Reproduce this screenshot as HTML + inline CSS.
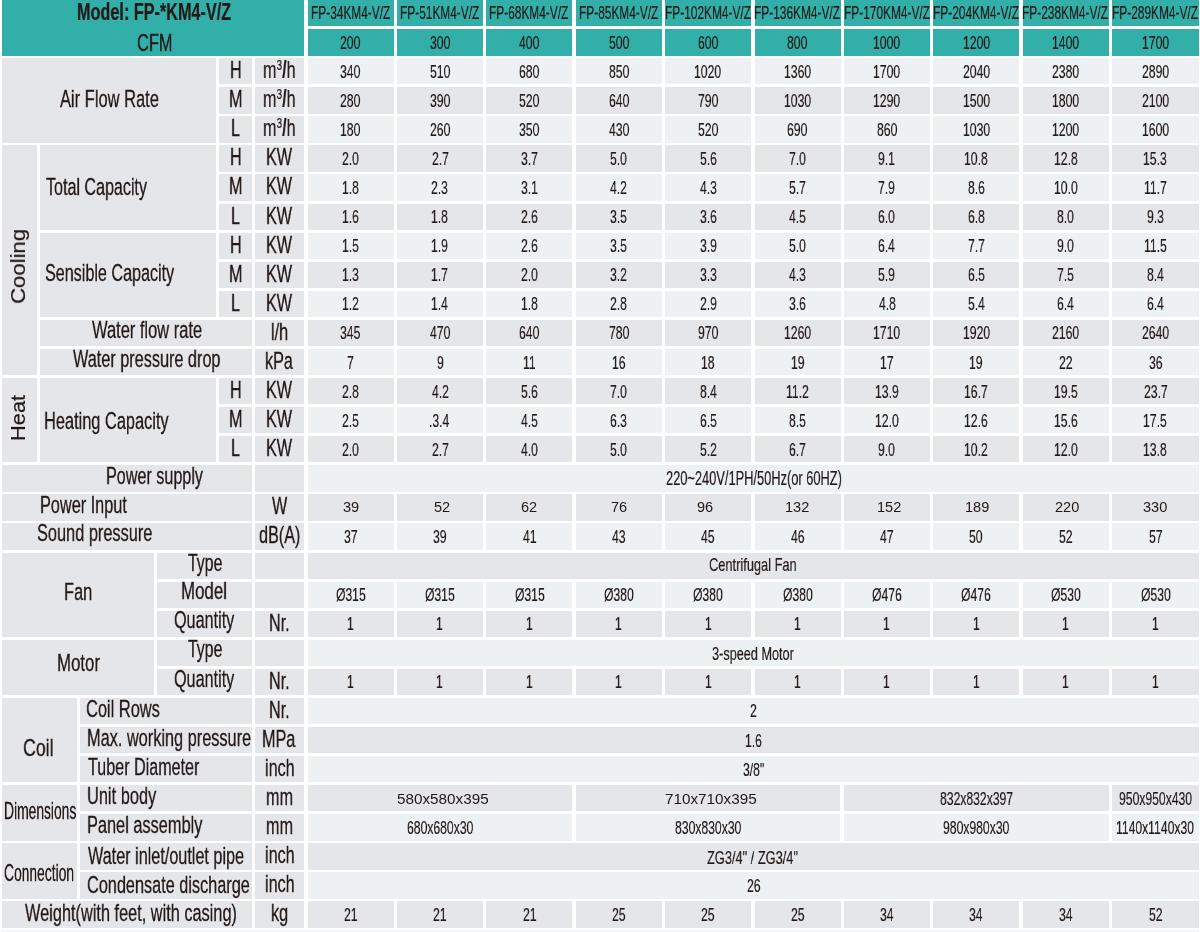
<!DOCTYPE html><html><head><meta charset="utf-8"><title>FP-KM4-V/Z</title><style>
html,body{margin:0;padding:0;background:#fff;width:1200px;height:932px;overflow:hidden}
.c{position:absolute}
.t{position:absolute;font-family:"Liberation Sans",Arial,sans-serif;line-height:1;white-space:nowrap;color:#231816;transform-origin:0 0;will-change:transform;-webkit-text-stroke:0.2px #231816}
.l{-webkit-text-stroke:0.3px #231816}
.b{font-weight:bold}
.r{transform:translate(-50%,-50%) rotate(-90deg);transform-origin:50% 50%}
sup{font-size:0.62em;vertical-align:0.55em;line-height:0}
</style></head><body>
<div class="c" style="left:2.00px;top:0.00px;width:302.00px;height:55.60px;background:#33afa9"></div>
<div class="c" style="left:307.60px;top:0.00px;width:86.00px;height:25.60px;background:#33afa9"></div>
<div class="c" style="left:307.60px;top:29.08px;width:86.00px;height:26.52px;background:#33afa9"></div>
<div class="c" style="left:396.98px;top:0.00px;width:86.00px;height:25.60px;background:#33afa9"></div>
<div class="c" style="left:396.98px;top:29.08px;width:86.00px;height:26.52px;background:#33afa9"></div>
<div class="c" style="left:486.36px;top:0.00px;width:86.00px;height:25.60px;background:#33afa9"></div>
<div class="c" style="left:486.36px;top:29.08px;width:86.00px;height:26.52px;background:#33afa9"></div>
<div class="c" style="left:575.74px;top:0.00px;width:86.00px;height:25.60px;background:#33afa9"></div>
<div class="c" style="left:575.74px;top:29.08px;width:86.00px;height:26.52px;background:#33afa9"></div>
<div class="c" style="left:665.12px;top:0.00px;width:86.00px;height:25.60px;background:#33afa9"></div>
<div class="c" style="left:665.12px;top:29.08px;width:86.00px;height:26.52px;background:#33afa9"></div>
<div class="c" style="left:754.50px;top:0.00px;width:86.00px;height:25.60px;background:#33afa9"></div>
<div class="c" style="left:754.50px;top:29.08px;width:86.00px;height:26.52px;background:#33afa9"></div>
<div class="c" style="left:843.88px;top:0.00px;width:86.00px;height:25.60px;background:#33afa9"></div>
<div class="c" style="left:843.88px;top:29.08px;width:86.00px;height:26.52px;background:#33afa9"></div>
<div class="c" style="left:933.26px;top:0.00px;width:86.00px;height:25.60px;background:#33afa9"></div>
<div class="c" style="left:933.26px;top:29.08px;width:86.00px;height:26.52px;background:#33afa9"></div>
<div class="c" style="left:1022.64px;top:0.00px;width:86.00px;height:25.60px;background:#33afa9"></div>
<div class="c" style="left:1022.64px;top:29.08px;width:86.00px;height:26.52px;background:#33afa9"></div>
<div class="c" style="left:1112.02px;top:0.00px;width:86.98px;height:25.60px;background:#33afa9"></div>
<div class="c" style="left:1112.02px;top:29.08px;width:86.98px;height:26.52px;background:#33afa9"></div>
<div class="c" style="left:307.60px;top:58.16px;width:86.00px;height:26.30px;background:#edf1f4"></div>
<div class="c" style="left:396.98px;top:58.16px;width:86.00px;height:26.30px;background:#edf1f4"></div>
<div class="c" style="left:486.36px;top:58.16px;width:86.00px;height:26.30px;background:#edf1f4"></div>
<div class="c" style="left:575.74px;top:58.16px;width:86.00px;height:26.30px;background:#edf1f4"></div>
<div class="c" style="left:665.12px;top:58.16px;width:86.00px;height:26.30px;background:#edf1f4"></div>
<div class="c" style="left:754.50px;top:58.16px;width:86.00px;height:26.30px;background:#edf1f4"></div>
<div class="c" style="left:843.88px;top:58.16px;width:86.00px;height:26.30px;background:#edf1f4"></div>
<div class="c" style="left:933.26px;top:58.16px;width:86.00px;height:26.30px;background:#edf1f4"></div>
<div class="c" style="left:1022.64px;top:58.16px;width:86.00px;height:26.30px;background:#edf1f4"></div>
<div class="c" style="left:1112.02px;top:58.16px;width:86.98px;height:26.30px;background:#edf1f4"></div>
<div class="c" style="left:307.60px;top:87.24px;width:86.00px;height:26.30px;background:#e5e6e9"></div>
<div class="c" style="left:396.98px;top:87.24px;width:86.00px;height:26.30px;background:#e5e6e9"></div>
<div class="c" style="left:486.36px;top:87.24px;width:86.00px;height:26.30px;background:#e5e6e9"></div>
<div class="c" style="left:575.74px;top:87.24px;width:86.00px;height:26.30px;background:#e5e6e9"></div>
<div class="c" style="left:665.12px;top:87.24px;width:86.00px;height:26.30px;background:#e5e6e9"></div>
<div class="c" style="left:754.50px;top:87.24px;width:86.00px;height:26.30px;background:#e5e6e9"></div>
<div class="c" style="left:843.88px;top:87.24px;width:86.00px;height:26.30px;background:#e5e6e9"></div>
<div class="c" style="left:933.26px;top:87.24px;width:86.00px;height:26.30px;background:#e5e6e9"></div>
<div class="c" style="left:1022.64px;top:87.24px;width:86.00px;height:26.30px;background:#e5e6e9"></div>
<div class="c" style="left:1112.02px;top:87.24px;width:86.98px;height:26.30px;background:#e5e6e9"></div>
<div class="c" style="left:307.60px;top:116.32px;width:86.00px;height:26.30px;background:#edf1f4"></div>
<div class="c" style="left:396.98px;top:116.32px;width:86.00px;height:26.30px;background:#edf1f4"></div>
<div class="c" style="left:486.36px;top:116.32px;width:86.00px;height:26.30px;background:#edf1f4"></div>
<div class="c" style="left:575.74px;top:116.32px;width:86.00px;height:26.30px;background:#edf1f4"></div>
<div class="c" style="left:665.12px;top:116.32px;width:86.00px;height:26.30px;background:#edf1f4"></div>
<div class="c" style="left:754.50px;top:116.32px;width:86.00px;height:26.30px;background:#edf1f4"></div>
<div class="c" style="left:843.88px;top:116.32px;width:86.00px;height:26.30px;background:#edf1f4"></div>
<div class="c" style="left:933.26px;top:116.32px;width:86.00px;height:26.30px;background:#edf1f4"></div>
<div class="c" style="left:1022.64px;top:116.32px;width:86.00px;height:26.30px;background:#edf1f4"></div>
<div class="c" style="left:1112.02px;top:116.32px;width:86.98px;height:26.30px;background:#edf1f4"></div>
<div class="c" style="left:307.60px;top:145.40px;width:86.00px;height:26.30px;background:#e5e6e9"></div>
<div class="c" style="left:396.98px;top:145.40px;width:86.00px;height:26.30px;background:#e5e6e9"></div>
<div class="c" style="left:486.36px;top:145.40px;width:86.00px;height:26.30px;background:#e5e6e9"></div>
<div class="c" style="left:575.74px;top:145.40px;width:86.00px;height:26.30px;background:#e5e6e9"></div>
<div class="c" style="left:665.12px;top:145.40px;width:86.00px;height:26.30px;background:#e5e6e9"></div>
<div class="c" style="left:754.50px;top:145.40px;width:86.00px;height:26.30px;background:#e5e6e9"></div>
<div class="c" style="left:843.88px;top:145.40px;width:86.00px;height:26.30px;background:#e5e6e9"></div>
<div class="c" style="left:933.26px;top:145.40px;width:86.00px;height:26.30px;background:#e5e6e9"></div>
<div class="c" style="left:1022.64px;top:145.40px;width:86.00px;height:26.30px;background:#e5e6e9"></div>
<div class="c" style="left:1112.02px;top:145.40px;width:86.98px;height:26.30px;background:#e5e6e9"></div>
<div class="c" style="left:307.60px;top:174.48px;width:86.00px;height:26.30px;background:#edf1f4"></div>
<div class="c" style="left:396.98px;top:174.48px;width:86.00px;height:26.30px;background:#edf1f4"></div>
<div class="c" style="left:486.36px;top:174.48px;width:86.00px;height:26.30px;background:#edf1f4"></div>
<div class="c" style="left:575.74px;top:174.48px;width:86.00px;height:26.30px;background:#edf1f4"></div>
<div class="c" style="left:665.12px;top:174.48px;width:86.00px;height:26.30px;background:#edf1f4"></div>
<div class="c" style="left:754.50px;top:174.48px;width:86.00px;height:26.30px;background:#edf1f4"></div>
<div class="c" style="left:843.88px;top:174.48px;width:86.00px;height:26.30px;background:#edf1f4"></div>
<div class="c" style="left:933.26px;top:174.48px;width:86.00px;height:26.30px;background:#edf1f4"></div>
<div class="c" style="left:1022.64px;top:174.48px;width:86.00px;height:26.30px;background:#edf1f4"></div>
<div class="c" style="left:1112.02px;top:174.48px;width:86.98px;height:26.30px;background:#edf1f4"></div>
<div class="c" style="left:307.60px;top:203.56px;width:86.00px;height:26.30px;background:#e5e6e9"></div>
<div class="c" style="left:396.98px;top:203.56px;width:86.00px;height:26.30px;background:#e5e6e9"></div>
<div class="c" style="left:486.36px;top:203.56px;width:86.00px;height:26.30px;background:#e5e6e9"></div>
<div class="c" style="left:575.74px;top:203.56px;width:86.00px;height:26.30px;background:#e5e6e9"></div>
<div class="c" style="left:665.12px;top:203.56px;width:86.00px;height:26.30px;background:#e5e6e9"></div>
<div class="c" style="left:754.50px;top:203.56px;width:86.00px;height:26.30px;background:#e5e6e9"></div>
<div class="c" style="left:843.88px;top:203.56px;width:86.00px;height:26.30px;background:#e5e6e9"></div>
<div class="c" style="left:933.26px;top:203.56px;width:86.00px;height:26.30px;background:#e5e6e9"></div>
<div class="c" style="left:1022.64px;top:203.56px;width:86.00px;height:26.30px;background:#e5e6e9"></div>
<div class="c" style="left:1112.02px;top:203.56px;width:86.98px;height:26.30px;background:#e5e6e9"></div>
<div class="c" style="left:307.60px;top:232.64px;width:86.00px;height:26.30px;background:#edf1f4"></div>
<div class="c" style="left:396.98px;top:232.64px;width:86.00px;height:26.30px;background:#edf1f4"></div>
<div class="c" style="left:486.36px;top:232.64px;width:86.00px;height:26.30px;background:#edf1f4"></div>
<div class="c" style="left:575.74px;top:232.64px;width:86.00px;height:26.30px;background:#edf1f4"></div>
<div class="c" style="left:665.12px;top:232.64px;width:86.00px;height:26.30px;background:#edf1f4"></div>
<div class="c" style="left:754.50px;top:232.64px;width:86.00px;height:26.30px;background:#edf1f4"></div>
<div class="c" style="left:843.88px;top:232.64px;width:86.00px;height:26.30px;background:#edf1f4"></div>
<div class="c" style="left:933.26px;top:232.64px;width:86.00px;height:26.30px;background:#edf1f4"></div>
<div class="c" style="left:1022.64px;top:232.64px;width:86.00px;height:26.30px;background:#edf1f4"></div>
<div class="c" style="left:1112.02px;top:232.64px;width:86.98px;height:26.30px;background:#edf1f4"></div>
<div class="c" style="left:307.60px;top:261.72px;width:86.00px;height:26.30px;background:#e5e6e9"></div>
<div class="c" style="left:396.98px;top:261.72px;width:86.00px;height:26.30px;background:#e5e6e9"></div>
<div class="c" style="left:486.36px;top:261.72px;width:86.00px;height:26.30px;background:#e5e6e9"></div>
<div class="c" style="left:575.74px;top:261.72px;width:86.00px;height:26.30px;background:#e5e6e9"></div>
<div class="c" style="left:665.12px;top:261.72px;width:86.00px;height:26.30px;background:#e5e6e9"></div>
<div class="c" style="left:754.50px;top:261.72px;width:86.00px;height:26.30px;background:#e5e6e9"></div>
<div class="c" style="left:843.88px;top:261.72px;width:86.00px;height:26.30px;background:#e5e6e9"></div>
<div class="c" style="left:933.26px;top:261.72px;width:86.00px;height:26.30px;background:#e5e6e9"></div>
<div class="c" style="left:1022.64px;top:261.72px;width:86.00px;height:26.30px;background:#e5e6e9"></div>
<div class="c" style="left:1112.02px;top:261.72px;width:86.98px;height:26.30px;background:#e5e6e9"></div>
<div class="c" style="left:307.60px;top:290.80px;width:86.00px;height:26.30px;background:#edf1f4"></div>
<div class="c" style="left:396.98px;top:290.80px;width:86.00px;height:26.30px;background:#edf1f4"></div>
<div class="c" style="left:486.36px;top:290.80px;width:86.00px;height:26.30px;background:#edf1f4"></div>
<div class="c" style="left:575.74px;top:290.80px;width:86.00px;height:26.30px;background:#edf1f4"></div>
<div class="c" style="left:665.12px;top:290.80px;width:86.00px;height:26.30px;background:#edf1f4"></div>
<div class="c" style="left:754.50px;top:290.80px;width:86.00px;height:26.30px;background:#edf1f4"></div>
<div class="c" style="left:843.88px;top:290.80px;width:86.00px;height:26.30px;background:#edf1f4"></div>
<div class="c" style="left:933.26px;top:290.80px;width:86.00px;height:26.30px;background:#edf1f4"></div>
<div class="c" style="left:1022.64px;top:290.80px;width:86.00px;height:26.30px;background:#edf1f4"></div>
<div class="c" style="left:1112.02px;top:290.80px;width:86.98px;height:26.30px;background:#edf1f4"></div>
<div class="c" style="left:307.60px;top:319.88px;width:86.00px;height:26.30px;background:#e5e6e9"></div>
<div class="c" style="left:396.98px;top:319.88px;width:86.00px;height:26.30px;background:#e5e6e9"></div>
<div class="c" style="left:486.36px;top:319.88px;width:86.00px;height:26.30px;background:#e5e6e9"></div>
<div class="c" style="left:575.74px;top:319.88px;width:86.00px;height:26.30px;background:#e5e6e9"></div>
<div class="c" style="left:665.12px;top:319.88px;width:86.00px;height:26.30px;background:#e5e6e9"></div>
<div class="c" style="left:754.50px;top:319.88px;width:86.00px;height:26.30px;background:#e5e6e9"></div>
<div class="c" style="left:843.88px;top:319.88px;width:86.00px;height:26.30px;background:#e5e6e9"></div>
<div class="c" style="left:933.26px;top:319.88px;width:86.00px;height:26.30px;background:#e5e6e9"></div>
<div class="c" style="left:1022.64px;top:319.88px;width:86.00px;height:26.30px;background:#e5e6e9"></div>
<div class="c" style="left:1112.02px;top:319.88px;width:86.98px;height:26.30px;background:#e5e6e9"></div>
<div class="c" style="left:307.60px;top:348.96px;width:86.00px;height:26.30px;background:#edf1f4"></div>
<div class="c" style="left:396.98px;top:348.96px;width:86.00px;height:26.30px;background:#edf1f4"></div>
<div class="c" style="left:486.36px;top:348.96px;width:86.00px;height:26.30px;background:#edf1f4"></div>
<div class="c" style="left:575.74px;top:348.96px;width:86.00px;height:26.30px;background:#edf1f4"></div>
<div class="c" style="left:665.12px;top:348.96px;width:86.00px;height:26.30px;background:#edf1f4"></div>
<div class="c" style="left:754.50px;top:348.96px;width:86.00px;height:26.30px;background:#edf1f4"></div>
<div class="c" style="left:843.88px;top:348.96px;width:86.00px;height:26.30px;background:#edf1f4"></div>
<div class="c" style="left:933.26px;top:348.96px;width:86.00px;height:26.30px;background:#edf1f4"></div>
<div class="c" style="left:1022.64px;top:348.96px;width:86.00px;height:26.30px;background:#edf1f4"></div>
<div class="c" style="left:1112.02px;top:348.96px;width:86.98px;height:26.30px;background:#edf1f4"></div>
<div class="c" style="left:307.60px;top:378.04px;width:86.00px;height:26.30px;background:#e5e6e9"></div>
<div class="c" style="left:396.98px;top:378.04px;width:86.00px;height:26.30px;background:#e5e6e9"></div>
<div class="c" style="left:486.36px;top:378.04px;width:86.00px;height:26.30px;background:#e5e6e9"></div>
<div class="c" style="left:575.74px;top:378.04px;width:86.00px;height:26.30px;background:#e5e6e9"></div>
<div class="c" style="left:665.12px;top:378.04px;width:86.00px;height:26.30px;background:#e5e6e9"></div>
<div class="c" style="left:754.50px;top:378.04px;width:86.00px;height:26.30px;background:#e5e6e9"></div>
<div class="c" style="left:843.88px;top:378.04px;width:86.00px;height:26.30px;background:#e5e6e9"></div>
<div class="c" style="left:933.26px;top:378.04px;width:86.00px;height:26.30px;background:#e5e6e9"></div>
<div class="c" style="left:1022.64px;top:378.04px;width:86.00px;height:26.30px;background:#e5e6e9"></div>
<div class="c" style="left:1112.02px;top:378.04px;width:86.98px;height:26.30px;background:#e5e6e9"></div>
<div class="c" style="left:307.60px;top:407.12px;width:86.00px;height:26.30px;background:#edf1f4"></div>
<div class="c" style="left:396.98px;top:407.12px;width:86.00px;height:26.30px;background:#edf1f4"></div>
<div class="c" style="left:486.36px;top:407.12px;width:86.00px;height:26.30px;background:#edf1f4"></div>
<div class="c" style="left:575.74px;top:407.12px;width:86.00px;height:26.30px;background:#edf1f4"></div>
<div class="c" style="left:665.12px;top:407.12px;width:86.00px;height:26.30px;background:#edf1f4"></div>
<div class="c" style="left:754.50px;top:407.12px;width:86.00px;height:26.30px;background:#edf1f4"></div>
<div class="c" style="left:843.88px;top:407.12px;width:86.00px;height:26.30px;background:#edf1f4"></div>
<div class="c" style="left:933.26px;top:407.12px;width:86.00px;height:26.30px;background:#edf1f4"></div>
<div class="c" style="left:1022.64px;top:407.12px;width:86.00px;height:26.30px;background:#edf1f4"></div>
<div class="c" style="left:1112.02px;top:407.12px;width:86.98px;height:26.30px;background:#edf1f4"></div>
<div class="c" style="left:307.60px;top:436.20px;width:86.00px;height:26.30px;background:#e5e6e9"></div>
<div class="c" style="left:396.98px;top:436.20px;width:86.00px;height:26.30px;background:#e5e6e9"></div>
<div class="c" style="left:486.36px;top:436.20px;width:86.00px;height:26.30px;background:#e5e6e9"></div>
<div class="c" style="left:575.74px;top:436.20px;width:86.00px;height:26.30px;background:#e5e6e9"></div>
<div class="c" style="left:665.12px;top:436.20px;width:86.00px;height:26.30px;background:#e5e6e9"></div>
<div class="c" style="left:754.50px;top:436.20px;width:86.00px;height:26.30px;background:#e5e6e9"></div>
<div class="c" style="left:843.88px;top:436.20px;width:86.00px;height:26.30px;background:#e5e6e9"></div>
<div class="c" style="left:933.26px;top:436.20px;width:86.00px;height:26.30px;background:#e5e6e9"></div>
<div class="c" style="left:1022.64px;top:436.20px;width:86.00px;height:26.30px;background:#e5e6e9"></div>
<div class="c" style="left:1112.02px;top:436.20px;width:86.98px;height:26.30px;background:#e5e6e9"></div>
<div class="c" style="left:307.60px;top:465.28px;width:891.40px;height:26.30px;background:#edf1f4"></div>
<div class="c" style="left:307.60px;top:494.36px;width:86.00px;height:26.30px;background:#e5e6e9"></div>
<div class="c" style="left:396.98px;top:494.36px;width:86.00px;height:26.30px;background:#e5e6e9"></div>
<div class="c" style="left:486.36px;top:494.36px;width:86.00px;height:26.30px;background:#e5e6e9"></div>
<div class="c" style="left:575.74px;top:494.36px;width:86.00px;height:26.30px;background:#e5e6e9"></div>
<div class="c" style="left:665.12px;top:494.36px;width:86.00px;height:26.30px;background:#e5e6e9"></div>
<div class="c" style="left:754.50px;top:494.36px;width:86.00px;height:26.30px;background:#e5e6e9"></div>
<div class="c" style="left:843.88px;top:494.36px;width:86.00px;height:26.30px;background:#e5e6e9"></div>
<div class="c" style="left:933.26px;top:494.36px;width:86.00px;height:26.30px;background:#e5e6e9"></div>
<div class="c" style="left:1022.64px;top:494.36px;width:86.00px;height:26.30px;background:#e5e6e9"></div>
<div class="c" style="left:1112.02px;top:494.36px;width:86.98px;height:26.30px;background:#e5e6e9"></div>
<div class="c" style="left:307.60px;top:523.44px;width:86.00px;height:26.30px;background:#edf1f4"></div>
<div class="c" style="left:396.98px;top:523.44px;width:86.00px;height:26.30px;background:#edf1f4"></div>
<div class="c" style="left:486.36px;top:523.44px;width:86.00px;height:26.30px;background:#edf1f4"></div>
<div class="c" style="left:575.74px;top:523.44px;width:86.00px;height:26.30px;background:#edf1f4"></div>
<div class="c" style="left:665.12px;top:523.44px;width:86.00px;height:26.30px;background:#edf1f4"></div>
<div class="c" style="left:754.50px;top:523.44px;width:86.00px;height:26.30px;background:#edf1f4"></div>
<div class="c" style="left:843.88px;top:523.44px;width:86.00px;height:26.30px;background:#edf1f4"></div>
<div class="c" style="left:933.26px;top:523.44px;width:86.00px;height:26.30px;background:#edf1f4"></div>
<div class="c" style="left:1022.64px;top:523.44px;width:86.00px;height:26.30px;background:#edf1f4"></div>
<div class="c" style="left:1112.02px;top:523.44px;width:86.98px;height:26.30px;background:#edf1f4"></div>
<div class="c" style="left:307.60px;top:552.52px;width:891.40px;height:26.30px;background:#e5e6e9"></div>
<div class="c" style="left:307.60px;top:581.60px;width:86.00px;height:26.30px;background:#edf1f4"></div>
<div class="c" style="left:396.98px;top:581.60px;width:86.00px;height:26.30px;background:#edf1f4"></div>
<div class="c" style="left:486.36px;top:581.60px;width:86.00px;height:26.30px;background:#edf1f4"></div>
<div class="c" style="left:575.74px;top:581.60px;width:86.00px;height:26.30px;background:#edf1f4"></div>
<div class="c" style="left:665.12px;top:581.60px;width:86.00px;height:26.30px;background:#edf1f4"></div>
<div class="c" style="left:754.50px;top:581.60px;width:86.00px;height:26.30px;background:#edf1f4"></div>
<div class="c" style="left:843.88px;top:581.60px;width:86.00px;height:26.30px;background:#edf1f4"></div>
<div class="c" style="left:933.26px;top:581.60px;width:86.00px;height:26.30px;background:#edf1f4"></div>
<div class="c" style="left:1022.64px;top:581.60px;width:86.00px;height:26.30px;background:#edf1f4"></div>
<div class="c" style="left:1112.02px;top:581.60px;width:86.98px;height:26.30px;background:#edf1f4"></div>
<div class="c" style="left:307.60px;top:610.68px;width:86.00px;height:26.30px;background:#e5e6e9"></div>
<div class="c" style="left:396.98px;top:610.68px;width:86.00px;height:26.30px;background:#e5e6e9"></div>
<div class="c" style="left:486.36px;top:610.68px;width:86.00px;height:26.30px;background:#e5e6e9"></div>
<div class="c" style="left:575.74px;top:610.68px;width:86.00px;height:26.30px;background:#e5e6e9"></div>
<div class="c" style="left:665.12px;top:610.68px;width:86.00px;height:26.30px;background:#e5e6e9"></div>
<div class="c" style="left:754.50px;top:610.68px;width:86.00px;height:26.30px;background:#e5e6e9"></div>
<div class="c" style="left:843.88px;top:610.68px;width:86.00px;height:26.30px;background:#e5e6e9"></div>
<div class="c" style="left:933.26px;top:610.68px;width:86.00px;height:26.30px;background:#e5e6e9"></div>
<div class="c" style="left:1022.64px;top:610.68px;width:86.00px;height:26.30px;background:#e5e6e9"></div>
<div class="c" style="left:1112.02px;top:610.68px;width:86.98px;height:26.30px;background:#e5e6e9"></div>
<div class="c" style="left:307.60px;top:639.76px;width:891.40px;height:26.30px;background:#edf1f4"></div>
<div class="c" style="left:307.60px;top:668.84px;width:86.00px;height:26.30px;background:#e5e6e9"></div>
<div class="c" style="left:396.98px;top:668.84px;width:86.00px;height:26.30px;background:#e5e6e9"></div>
<div class="c" style="left:486.36px;top:668.84px;width:86.00px;height:26.30px;background:#e5e6e9"></div>
<div class="c" style="left:575.74px;top:668.84px;width:86.00px;height:26.30px;background:#e5e6e9"></div>
<div class="c" style="left:665.12px;top:668.84px;width:86.00px;height:26.30px;background:#e5e6e9"></div>
<div class="c" style="left:754.50px;top:668.84px;width:86.00px;height:26.30px;background:#e5e6e9"></div>
<div class="c" style="left:843.88px;top:668.84px;width:86.00px;height:26.30px;background:#e5e6e9"></div>
<div class="c" style="left:933.26px;top:668.84px;width:86.00px;height:26.30px;background:#e5e6e9"></div>
<div class="c" style="left:1022.64px;top:668.84px;width:86.00px;height:26.30px;background:#e5e6e9"></div>
<div class="c" style="left:1112.02px;top:668.84px;width:86.98px;height:26.30px;background:#e5e6e9"></div>
<div class="c" style="left:307.60px;top:697.92px;width:891.40px;height:26.30px;background:#edf1f4"></div>
<div class="c" style="left:307.60px;top:727.00px;width:891.40px;height:26.30px;background:#e5e6e9"></div>
<div class="c" style="left:307.60px;top:756.08px;width:891.40px;height:26.30px;background:#edf1f4"></div>
<div class="c" style="left:307.60px;top:785.16px;width:264.76px;height:26.30px;background:#e5e6e9"></div>
<div class="c" style="left:575.74px;top:785.16px;width:264.76px;height:26.30px;background:#e5e6e9"></div>
<div class="c" style="left:843.88px;top:785.16px;width:264.76px;height:26.30px;background:#e5e6e9"></div>
<div class="c" style="left:1112.02px;top:785.16px;width:86.98px;height:26.30px;background:#e5e6e9"></div>
<div class="c" style="left:307.60px;top:814.24px;width:264.76px;height:26.30px;background:#edf1f4"></div>
<div class="c" style="left:575.74px;top:814.24px;width:264.76px;height:26.30px;background:#edf1f4"></div>
<div class="c" style="left:843.88px;top:814.24px;width:264.76px;height:26.30px;background:#edf1f4"></div>
<div class="c" style="left:1112.02px;top:814.24px;width:86.98px;height:26.30px;background:#edf1f4"></div>
<div class="c" style="left:307.60px;top:843.32px;width:891.40px;height:26.30px;background:#e5e6e9"></div>
<div class="c" style="left:307.60px;top:872.40px;width:891.40px;height:26.30px;background:#edf1f4"></div>
<div class="c" style="left:307.60px;top:901.48px;width:86.00px;height:26.30px;background:#e5e6e9"></div>
<div class="c" style="left:396.98px;top:901.48px;width:86.00px;height:26.30px;background:#e5e6e9"></div>
<div class="c" style="left:486.36px;top:901.48px;width:86.00px;height:26.30px;background:#e5e6e9"></div>
<div class="c" style="left:575.74px;top:901.48px;width:86.00px;height:26.30px;background:#e5e6e9"></div>
<div class="c" style="left:665.12px;top:901.48px;width:86.00px;height:26.30px;background:#e5e6e9"></div>
<div class="c" style="left:754.50px;top:901.48px;width:86.00px;height:26.30px;background:#e5e6e9"></div>
<div class="c" style="left:843.88px;top:901.48px;width:86.00px;height:26.30px;background:#e5e6e9"></div>
<div class="c" style="left:933.26px;top:901.48px;width:86.00px;height:26.30px;background:#e5e6e9"></div>
<div class="c" style="left:1022.64px;top:901.48px;width:86.00px;height:26.30px;background:#e5e6e9"></div>
<div class="c" style="left:1112.02px;top:901.48px;width:86.98px;height:26.30px;background:#e5e6e9"></div>
<div class="c" style="left:2.00px;top:930.00px;width:1197.00px;height:2.00px;background:#f3f5f7"></div>
<div class="c" style="left:2.00px;top:58.16px;width:214.00px;height:84.46px;background:#e5e6e9"></div>
<div class="c" style="left:219.00px;top:58.16px;width:33.20px;height:26.30px;background:#e5e6e9"></div>
<div class="c" style="left:255.20px;top:58.16px;width:48.80px;height:26.30px;background:#e5e6e9"></div>
<div class="c" style="left:219.00px;top:87.24px;width:33.20px;height:26.30px;background:#e5e6e9"></div>
<div class="c" style="left:255.20px;top:87.24px;width:48.80px;height:26.30px;background:#e5e6e9"></div>
<div class="c" style="left:219.00px;top:116.32px;width:33.20px;height:26.30px;background:#e5e6e9"></div>
<div class="c" style="left:255.20px;top:116.32px;width:48.80px;height:26.30px;background:#e5e6e9"></div>
<div class="c" style="left:2.00px;top:145.40px;width:35.40px;height:229.86px;background:#e5e6e9"></div>
<div class="c" style="left:40.00px;top:145.40px;width:176.00px;height:84.46px;background:#e5e6e9"></div>
<div class="c" style="left:40.00px;top:232.64px;width:176.00px;height:84.46px;background:#e5e6e9"></div>
<div class="c" style="left:219.00px;top:145.40px;width:33.20px;height:26.30px;background:#e5e6e9"></div>
<div class="c" style="left:255.20px;top:145.40px;width:48.80px;height:26.30px;background:#e5e6e9"></div>
<div class="c" style="left:219.00px;top:174.48px;width:33.20px;height:26.30px;background:#e5e6e9"></div>
<div class="c" style="left:255.20px;top:174.48px;width:48.80px;height:26.30px;background:#e5e6e9"></div>
<div class="c" style="left:219.00px;top:203.56px;width:33.20px;height:26.30px;background:#e5e6e9"></div>
<div class="c" style="left:255.20px;top:203.56px;width:48.80px;height:26.30px;background:#e5e6e9"></div>
<div class="c" style="left:219.00px;top:232.64px;width:33.20px;height:26.30px;background:#e5e6e9"></div>
<div class="c" style="left:255.20px;top:232.64px;width:48.80px;height:26.30px;background:#e5e6e9"></div>
<div class="c" style="left:219.00px;top:261.72px;width:33.20px;height:26.30px;background:#e5e6e9"></div>
<div class="c" style="left:255.20px;top:261.72px;width:48.80px;height:26.30px;background:#e5e6e9"></div>
<div class="c" style="left:219.00px;top:290.80px;width:33.20px;height:26.30px;background:#e5e6e9"></div>
<div class="c" style="left:255.20px;top:290.80px;width:48.80px;height:26.30px;background:#e5e6e9"></div>
<div class="c" style="left:40.00px;top:319.88px;width:212.20px;height:26.30px;background:#e5e6e9"></div>
<div class="c" style="left:255.20px;top:319.88px;width:48.80px;height:26.30px;background:#e5e6e9"></div>
<div class="c" style="left:40.00px;top:348.96px;width:212.20px;height:26.30px;background:#e5e6e9"></div>
<div class="c" style="left:255.20px;top:348.96px;width:48.80px;height:26.30px;background:#e5e6e9"></div>
<div class="c" style="left:2.00px;top:378.04px;width:35.40px;height:84.46px;background:#e5e6e9"></div>
<div class="c" style="left:40.00px;top:378.04px;width:176.00px;height:84.46px;background:#e5e6e9"></div>
<div class="c" style="left:219.00px;top:378.04px;width:33.20px;height:26.30px;background:#e5e6e9"></div>
<div class="c" style="left:255.20px;top:378.04px;width:48.80px;height:26.30px;background:#e5e6e9"></div>
<div class="c" style="left:219.00px;top:407.12px;width:33.20px;height:26.30px;background:#e5e6e9"></div>
<div class="c" style="left:255.20px;top:407.12px;width:48.80px;height:26.30px;background:#e5e6e9"></div>
<div class="c" style="left:219.00px;top:436.20px;width:33.20px;height:26.30px;background:#e5e6e9"></div>
<div class="c" style="left:255.20px;top:436.20px;width:48.80px;height:26.30px;background:#e5e6e9"></div>
<div class="c" style="left:2.00px;top:465.28px;width:250.20px;height:26.30px;background:#e5e6e9"></div>
<div class="c" style="left:255.20px;top:465.28px;width:48.80px;height:26.30px;background:#e5e6e9"></div>
<div class="c" style="left:2.00px;top:494.36px;width:250.20px;height:26.30px;background:#e5e6e9"></div>
<div class="c" style="left:255.20px;top:494.36px;width:48.80px;height:26.30px;background:#e5e6e9"></div>
<div class="c" style="left:2.00px;top:523.44px;width:250.20px;height:26.30px;background:#e5e6e9"></div>
<div class="c" style="left:255.20px;top:523.44px;width:48.80px;height:26.30px;background:#e5e6e9"></div>
<div class="c" style="left:2.00px;top:552.52px;width:151.90px;height:84.46px;background:#e5e6e9"></div>
<div class="c" style="left:157.30px;top:552.52px;width:94.90px;height:26.30px;background:#e5e6e9"></div>
<div class="c" style="left:255.20px;top:552.52px;width:48.80px;height:26.30px;background:#e5e6e9"></div>
<div class="c" style="left:157.30px;top:581.60px;width:94.90px;height:26.30px;background:#e5e6e9"></div>
<div class="c" style="left:255.20px;top:581.60px;width:48.80px;height:26.30px;background:#e5e6e9"></div>
<div class="c" style="left:157.30px;top:610.68px;width:94.90px;height:26.30px;background:#e5e6e9"></div>
<div class="c" style="left:255.20px;top:610.68px;width:48.80px;height:26.30px;background:#e5e6e9"></div>
<div class="c" style="left:2.00px;top:639.76px;width:151.90px;height:55.38px;background:#e5e6e9"></div>
<div class="c" style="left:157.30px;top:639.76px;width:94.90px;height:26.30px;background:#e5e6e9"></div>
<div class="c" style="left:255.20px;top:639.76px;width:48.80px;height:26.30px;background:#e5e6e9"></div>
<div class="c" style="left:157.30px;top:668.84px;width:94.90px;height:26.30px;background:#e5e6e9"></div>
<div class="c" style="left:255.20px;top:668.84px;width:48.80px;height:26.30px;background:#e5e6e9"></div>
<div class="c" style="left:2.00px;top:697.92px;width:74.80px;height:84.46px;background:#e5e6e9"></div>
<div class="c" style="left:80.00px;top:697.92px;width:172.20px;height:26.30px;background:#e5e6e9"></div>
<div class="c" style="left:255.20px;top:697.92px;width:48.80px;height:26.30px;background:#e5e6e9"></div>
<div class="c" style="left:80.00px;top:727.00px;width:172.20px;height:26.30px;background:#e5e6e9"></div>
<div class="c" style="left:255.20px;top:727.00px;width:48.80px;height:26.30px;background:#e5e6e9"></div>
<div class="c" style="left:80.00px;top:756.08px;width:172.20px;height:26.30px;background:#e5e6e9"></div>
<div class="c" style="left:255.20px;top:756.08px;width:48.80px;height:26.30px;background:#e5e6e9"></div>
<div class="c" style="left:2.00px;top:785.16px;width:74.80px;height:55.38px;background:#e5e6e9"></div>
<div class="c" style="left:80.00px;top:785.16px;width:172.20px;height:26.30px;background:#e5e6e9"></div>
<div class="c" style="left:255.20px;top:785.16px;width:48.80px;height:26.30px;background:#e5e6e9"></div>
<div class="c" style="left:80.00px;top:814.24px;width:172.20px;height:26.30px;background:#e5e6e9"></div>
<div class="c" style="left:255.20px;top:814.24px;width:48.80px;height:26.30px;background:#e5e6e9"></div>
<div class="c" style="left:2.00px;top:843.32px;width:74.80px;height:55.38px;background:#e5e6e9"></div>
<div class="c" style="left:80.00px;top:843.32px;width:172.20px;height:26.30px;background:#e5e6e9"></div>
<div class="c" style="left:255.20px;top:843.32px;width:48.80px;height:26.30px;background:#e5e6e9"></div>
<div class="c" style="left:80.00px;top:872.40px;width:172.20px;height:26.30px;background:#e5e6e9"></div>
<div class="c" style="left:255.20px;top:872.40px;width:48.80px;height:26.30px;background:#e5e6e9"></div>
<div class="c" style="left:2.00px;top:901.48px;width:250.20px;height:26.30px;background:#e5e6e9"></div>
<div class="c" style="left:255.20px;top:901.48px;width:48.80px;height:26.30px;background:#e5e6e9"></div>
<span class="t b" style="left:76.93px;top:1.05px;font-size:23.70px;transform:scaleX(0.685)">Model: FP-*KM4-V/Z</span>
<span class="t l" style="left:136.68px;top:31.91px;font-size:23.40px;transform:scaleX(0.700)">CFM</span>
<span class="t" style="left:310.61px;top:4.19px;font-size:18.60px;transform:scaleX(0.640)">FP-34KM4-V/Z</span>
<span class="t" style="left:340.39px;top:32.83px;font-size:19.00px;transform:scaleX(0.640)">200</span>
<span class="t" style="left:399.99px;top:4.19px;font-size:18.60px;transform:scaleX(0.640)">FP-51KM4-V/Z</span>
<span class="t" style="left:429.84px;top:32.83px;font-size:19.00px;transform:scaleX(0.640)">300</span>
<span class="t" style="left:489.37px;top:4.19px;font-size:18.60px;transform:scaleX(0.640)">FP-68KM4-V/Z</span>
<span class="t" style="left:519.32px;top:32.83px;font-size:19.00px;transform:scaleX(0.640)">400</span>
<span class="t" style="left:578.75px;top:4.19px;font-size:18.60px;transform:scaleX(0.640)">FP-85KM4-V/Z</span>
<span class="t" style="left:608.59px;top:32.83px;font-size:19.00px;transform:scaleX(0.640)">500</span>
<span class="t" style="left:664.82px;top:4.19px;font-size:18.60px;transform:scaleX(0.640)">FP-102KM4-V/Z</span>
<span class="t" style="left:697.91px;top:32.83px;font-size:19.00px;transform:scaleX(0.640)">600</span>
<span class="t" style="left:754.20px;top:4.19px;font-size:18.60px;transform:scaleX(0.640)">FP-136KM4-V/Z</span>
<span class="t" style="left:787.33px;top:32.83px;font-size:19.00px;transform:scaleX(0.640)">800</span>
<span class="t" style="left:843.58px;top:4.19px;font-size:18.60px;transform:scaleX(0.640)">FP-170KM4-V/Z</span>
<span class="t" style="left:873.13px;top:32.83px;font-size:19.00px;transform:scaleX(0.640)">1000</span>
<span class="t" style="left:932.96px;top:4.19px;font-size:18.60px;transform:scaleX(0.640)">FP-204KM4-V/Z</span>
<span class="t" style="left:962.51px;top:32.83px;font-size:19.00px;transform:scaleX(0.640)">1200</span>
<span class="t" style="left:1022.34px;top:4.19px;font-size:18.60px;transform:scaleX(0.640)">FP-238KM4-V/Z</span>
<span class="t" style="left:1051.89px;top:32.83px;font-size:19.00px;transform:scaleX(0.640)">1400</span>
<span class="t" style="left:1112.21px;top:4.19px;font-size:18.60px;transform:scaleX(0.640)">FP-289KM4-V/Z</span>
<span class="t" style="left:1141.76px;top:32.83px;font-size:19.00px;transform:scaleX(0.640)">1700</span>
<span class="t" style="left:340.46px;top:61.71px;font-size:19.00px;transform:scaleX(0.640)">340</span>
<span class="t" style="left:429.83px;top:61.71px;font-size:19.00px;transform:scaleX(0.640)">510</span>
<span class="t" style="left:519.15px;top:61.71px;font-size:19.00px;transform:scaleX(0.640)">680</span>
<span class="t" style="left:608.57px;top:61.71px;font-size:19.00px;transform:scaleX(0.640)">850</span>
<span class="t" style="left:694.37px;top:61.71px;font-size:19.00px;transform:scaleX(0.640)">1020</span>
<span class="t" style="left:783.75px;top:61.71px;font-size:19.00px;transform:scaleX(0.640)">1360</span>
<span class="t" style="left:873.13px;top:61.71px;font-size:19.00px;transform:scaleX(0.640)">1700</span>
<span class="t" style="left:962.67px;top:61.71px;font-size:19.00px;transform:scaleX(0.640)">2040</span>
<span class="t" style="left:1052.05px;top:61.71px;font-size:19.00px;transform:scaleX(0.640)">2380</span>
<span class="t" style="left:1141.92px;top:61.71px;font-size:19.00px;transform:scaleX(0.640)">2890</span>
<span class="t" style="left:340.39px;top:90.79px;font-size:19.00px;transform:scaleX(0.640)">280</span>
<span class="t" style="left:429.84px;top:90.79px;font-size:19.00px;transform:scaleX(0.640)">390</span>
<span class="t" style="left:519.21px;top:90.79px;font-size:19.00px;transform:scaleX(0.640)">520</span>
<span class="t" style="left:608.53px;top:90.79px;font-size:19.00px;transform:scaleX(0.640)">640</span>
<span class="t" style="left:697.90px;top:90.79px;font-size:19.00px;transform:scaleX(0.640)">790</span>
<span class="t" style="left:783.75px;top:90.79px;font-size:19.00px;transform:scaleX(0.640)">1030</span>
<span class="t" style="left:873.13px;top:90.79px;font-size:19.00px;transform:scaleX(0.640)">1290</span>
<span class="t" style="left:962.51px;top:90.79px;font-size:19.00px;transform:scaleX(0.640)">1500</span>
<span class="t" style="left:1051.89px;top:90.79px;font-size:19.00px;transform:scaleX(0.640)">1800</span>
<span class="t" style="left:1141.92px;top:90.79px;font-size:19.00px;transform:scaleX(0.640)">2100</span>
<span class="t" style="left:340.23px;top:119.87px;font-size:19.00px;transform:scaleX(0.640)">180</span>
<span class="t" style="left:429.77px;top:119.87px;font-size:19.00px;transform:scaleX(0.640)">260</span>
<span class="t" style="left:519.22px;top:119.87px;font-size:19.00px;transform:scaleX(0.640)">350</span>
<span class="t" style="left:608.70px;top:119.87px;font-size:19.00px;transform:scaleX(0.640)">430</span>
<span class="t" style="left:697.97px;top:119.87px;font-size:19.00px;transform:scaleX(0.640)">520</span>
<span class="t" style="left:787.29px;top:119.87px;font-size:19.00px;transform:scaleX(0.640)">690</span>
<span class="t" style="left:876.71px;top:119.87px;font-size:19.00px;transform:scaleX(0.640)">860</span>
<span class="t" style="left:962.51px;top:119.87px;font-size:19.00px;transform:scaleX(0.640)">1030</span>
<span class="t" style="left:1051.89px;top:119.87px;font-size:19.00px;transform:scaleX(0.640)">1200</span>
<span class="t" style="left:1141.76px;top:119.87px;font-size:19.00px;transform:scaleX(0.640)">1600</span>
<span class="t" style="left:342.08px;top:148.95px;font-size:19.00px;transform:scaleX(0.640)">2.0</span>
<span class="t" style="left:431.53px;top:148.95px;font-size:19.00px;transform:scaleX(0.640)">2.7</span>
<span class="t" style="left:520.98px;top:148.95px;font-size:19.00px;transform:scaleX(0.640)">3.7</span>
<span class="t" style="left:610.28px;top:148.95px;font-size:19.00px;transform:scaleX(0.640)">5.0</span>
<span class="t" style="left:699.69px;top:148.95px;font-size:19.00px;transform:scaleX(0.640)">5.6</span>
<span class="t" style="left:788.97px;top:148.95px;font-size:19.00px;transform:scaleX(0.640)">7.0</span>
<span class="t" style="left:878.44px;top:148.95px;font-size:19.00px;transform:scaleX(0.640)">9.1</span>
<span class="t" style="left:964.23px;top:148.95px;font-size:19.00px;transform:scaleX(0.640)">10.8</span>
<span class="t" style="left:1053.61px;top:148.95px;font-size:19.00px;transform:scaleX(0.640)">12.8</span>
<span class="t" style="left:1143.48px;top:148.95px;font-size:19.00px;transform:scaleX(0.640)">15.3</span>
<span class="t" style="left:341.95px;top:178.03px;font-size:19.00px;transform:scaleX(0.640)">1.8</span>
<span class="t" style="left:431.49px;top:178.03px;font-size:19.00px;transform:scaleX(0.640)">2.3</span>
<span class="t" style="left:520.97px;top:178.03px;font-size:19.00px;transform:scaleX(0.640)">3.1</span>
<span class="t" style="left:610.46px;top:178.03px;font-size:19.00px;transform:scaleX(0.640)">4.2</span>
<span class="t" style="left:699.80px;top:178.03px;font-size:19.00px;transform:scaleX(0.640)">4.3</span>
<span class="t" style="left:789.11px;top:178.03px;font-size:19.00px;transform:scaleX(0.640)">5.7</span>
<span class="t" style="left:878.40px;top:178.03px;font-size:19.00px;transform:scaleX(0.640)">7.9</span>
<span class="t" style="left:967.81px;top:178.03px;font-size:19.00px;transform:scaleX(0.640)">8.6</span>
<span class="t" style="left:1053.58px;top:178.03px;font-size:19.00px;transform:scaleX(0.640)">10.0</span>
<span class="t" style="left:1143.97px;top:178.03px;font-size:19.00px;transform:scaleX(0.640)">11.7</span>
<span class="t" style="left:341.95px;top:207.11px;font-size:19.00px;transform:scaleX(0.640)">1.6</span>
<span class="t" style="left:431.33px;top:207.11px;font-size:19.00px;transform:scaleX(0.640)">1.8</span>
<span class="t" style="left:520.87px;top:207.11px;font-size:19.00px;transform:scaleX(0.640)">2.6</span>
<span class="t" style="left:610.31px;top:207.11px;font-size:19.00px;transform:scaleX(0.640)">3.5</span>
<span class="t" style="left:699.70px;top:207.11px;font-size:19.00px;transform:scaleX(0.640)">3.6</span>
<span class="t" style="left:789.16px;top:207.11px;font-size:19.00px;transform:scaleX(0.640)">4.5</span>
<span class="t" style="left:878.36px;top:207.11px;font-size:19.00px;transform:scaleX(0.640)">6.0</span>
<span class="t" style="left:967.77px;top:207.11px;font-size:19.00px;transform:scaleX(0.640)">6.8</span>
<span class="t" style="left:1057.16px;top:207.11px;font-size:19.00px;transform:scaleX(0.640)">8.0</span>
<span class="t" style="left:1147.04px;top:207.11px;font-size:19.00px;transform:scaleX(0.640)">9.3</span>
<span class="t" style="left:341.94px;top:236.19px;font-size:19.00px;transform:scaleX(0.640)">1.5</span>
<span class="t" style="left:431.35px;top:236.19px;font-size:19.00px;transform:scaleX(0.640)">1.9</span>
<span class="t" style="left:520.87px;top:236.19px;font-size:19.00px;transform:scaleX(0.640)">2.6</span>
<span class="t" style="left:610.31px;top:236.19px;font-size:19.00px;transform:scaleX(0.640)">3.5</span>
<span class="t" style="left:699.72px;top:236.19px;font-size:19.00px;transform:scaleX(0.640)">3.9</span>
<span class="t" style="left:789.04px;top:236.19px;font-size:19.00px;transform:scaleX(0.640)">5.0</span>
<span class="t" style="left:878.30px;top:236.19px;font-size:19.00px;transform:scaleX(0.640)">6.4</span>
<span class="t" style="left:967.80px;top:236.19px;font-size:19.00px;transform:scaleX(0.640)">7.7</span>
<span class="t" style="left:1057.14px;top:236.19px;font-size:19.00px;transform:scaleX(0.640)">9.0</span>
<span class="t" style="left:1143.92px;top:236.19px;font-size:19.00px;transform:scaleX(0.640)">11.5</span>
<span class="t" style="left:341.95px;top:265.27px;font-size:19.00px;transform:scaleX(0.640)">1.3</span>
<span class="t" style="left:431.37px;top:265.27px;font-size:19.00px;transform:scaleX(0.640)">1.7</span>
<span class="t" style="left:520.84px;top:265.27px;font-size:19.00px;transform:scaleX(0.640)">2.0</span>
<span class="t" style="left:610.36px;top:265.27px;font-size:19.00px;transform:scaleX(0.640)">3.2</span>
<span class="t" style="left:699.70px;top:265.27px;font-size:19.00px;transform:scaleX(0.640)">3.3</span>
<span class="t" style="left:789.18px;top:265.27px;font-size:19.00px;transform:scaleX(0.640)">4.3</span>
<span class="t" style="left:878.47px;top:265.27px;font-size:19.00px;transform:scaleX(0.640)">5.9</span>
<span class="t" style="left:967.75px;top:265.27px;font-size:19.00px;transform:scaleX(0.640)">6.5</span>
<span class="t" style="left:1057.13px;top:265.27px;font-size:19.00px;transform:scaleX(0.640)">7.5</span>
<span class="t" style="left:1146.97px;top:265.27px;font-size:19.00px;transform:scaleX(0.640)">8.4</span>
<span class="t" style="left:341.99px;top:294.35px;font-size:19.00px;transform:scaleX(0.640)">1.2</span>
<span class="t" style="left:431.24px;top:294.35px;font-size:19.00px;transform:scaleX(0.640)">1.4</span>
<span class="t" style="left:520.71px;top:294.35px;font-size:19.00px;transform:scaleX(0.640)">1.8</span>
<span class="t" style="left:610.25px;top:294.35px;font-size:19.00px;transform:scaleX(0.640)">2.8</span>
<span class="t" style="left:699.65px;top:294.35px;font-size:19.00px;transform:scaleX(0.640)">2.9</span>
<span class="t" style="left:789.08px;top:294.35px;font-size:19.00px;transform:scaleX(0.640)">3.6</span>
<span class="t" style="left:878.56px;top:294.35px;font-size:19.00px;transform:scaleX(0.640)">4.8</span>
<span class="t" style="left:967.74px;top:294.35px;font-size:19.00px;transform:scaleX(0.640)">5.4</span>
<span class="t" style="left:1057.06px;top:294.35px;font-size:19.00px;transform:scaleX(0.640)">6.4</span>
<span class="t" style="left:1146.93px;top:294.35px;font-size:19.00px;transform:scaleX(0.640)">6.4</span>
<span class="t" style="left:340.48px;top:323.43px;font-size:19.00px;transform:scaleX(0.640)">345</span>
<span class="t" style="left:429.94px;top:323.43px;font-size:19.00px;transform:scaleX(0.640)">470</span>
<span class="t" style="left:519.15px;top:323.43px;font-size:19.00px;transform:scaleX(0.640)">640</span>
<span class="t" style="left:608.52px;top:323.43px;font-size:19.00px;transform:scaleX(0.640)">780</span>
<span class="t" style="left:697.93px;top:323.43px;font-size:19.00px;transform:scaleX(0.640)">970</span>
<span class="t" style="left:783.75px;top:323.43px;font-size:19.00px;transform:scaleX(0.640)">1260</span>
<span class="t" style="left:873.13px;top:323.43px;font-size:19.00px;transform:scaleX(0.640)">1710</span>
<span class="t" style="left:962.51px;top:323.43px;font-size:19.00px;transform:scaleX(0.640)">1920</span>
<span class="t" style="left:1052.05px;top:323.43px;font-size:19.00px;transform:scaleX(0.640)">2160</span>
<span class="t" style="left:1141.92px;top:323.43px;font-size:19.00px;transform:scaleX(0.640)">2640</span>
<span class="t" style="left:347.21px;top:352.51px;font-size:19.00px;transform:scaleX(0.640)">7</span>
<span class="t" style="left:436.61px;top:352.51px;font-size:19.00px;transform:scaleX(0.640)">9</span>
<span class="t" style="left:522.88px;top:352.51px;font-size:19.00px;transform:scaleX(0.640)">11</span>
<span class="t" style="left:611.78px;top:352.51px;font-size:19.00px;transform:scaleX(0.640)">16</span>
<span class="t" style="left:701.16px;top:352.51px;font-size:19.00px;transform:scaleX(0.640)">18</span>
<span class="t" style="left:790.56px;top:352.51px;font-size:19.00px;transform:scaleX(0.640)">19</span>
<span class="t" style="left:879.96px;top:352.51px;font-size:19.00px;transform:scaleX(0.640)">17</span>
<span class="t" style="left:969.32px;top:352.51px;font-size:19.00px;transform:scaleX(0.640)">19</span>
<span class="t" style="left:1058.88px;top:352.51px;font-size:19.00px;transform:scaleX(0.640)">22</span>
<span class="t" style="left:1148.78px;top:352.51px;font-size:19.00px;transform:scaleX(0.640)">36</span>
<span class="t" style="left:342.11px;top:381.59px;font-size:19.00px;transform:scaleX(0.640)">2.8</span>
<span class="t" style="left:431.70px;top:381.59px;font-size:19.00px;transform:scaleX(0.640)">4.2</span>
<span class="t" style="left:520.93px;top:381.59px;font-size:19.00px;transform:scaleX(0.640)">5.6</span>
<span class="t" style="left:610.21px;top:381.59px;font-size:19.00px;transform:scaleX(0.640)">7.0</span>
<span class="t" style="left:699.58px;top:381.59px;font-size:19.00px;transform:scaleX(0.640)">8.4</span>
<span class="t" style="left:785.96px;top:381.59px;font-size:19.00px;transform:scaleX(0.640)">11.2</span>
<span class="t" style="left:874.87px;top:381.59px;font-size:19.00px;transform:scaleX(0.640)">13.9</span>
<span class="t" style="left:964.27px;top:381.59px;font-size:19.00px;transform:scaleX(0.640)">16.7</span>
<span class="t" style="left:1053.60px;top:381.59px;font-size:19.00px;transform:scaleX(0.640)">19.5</span>
<span class="t" style="left:1143.68px;top:381.59px;font-size:19.00px;transform:scaleX(0.640)">23.7</span>
<span class="t" style="left:342.09px;top:410.67px;font-size:19.00px;transform:scaleX(0.640)">2.5</span>
<span class="t" style="left:429.46px;top:410.67px;font-size:19.00px;transform:scaleX(0.640)">.3.4</span>
<span class="t" style="left:521.02px;top:410.67px;font-size:19.00px;transform:scaleX(0.640)">4.5</span>
<span class="t" style="left:610.25px;top:410.67px;font-size:19.00px;transform:scaleX(0.640)">6.3</span>
<span class="t" style="left:699.61px;top:410.67px;font-size:19.00px;transform:scaleX(0.640)">6.5</span>
<span class="t" style="left:789.04px;top:410.67px;font-size:19.00px;transform:scaleX(0.640)">8.5</span>
<span class="t" style="left:874.82px;top:410.67px;font-size:19.00px;transform:scaleX(0.640)">12.0</span>
<span class="t" style="left:964.23px;top:410.67px;font-size:19.00px;transform:scaleX(0.640)">12.6</span>
<span class="t" style="left:1053.61px;top:410.67px;font-size:19.00px;transform:scaleX(0.640)">15.6</span>
<span class="t" style="left:1143.47px;top:410.67px;font-size:19.00px;transform:scaleX(0.640)">17.5</span>
<span class="t" style="left:342.08px;top:439.75px;font-size:19.00px;transform:scaleX(0.640)">2.0</span>
<span class="t" style="left:431.53px;top:439.75px;font-size:19.00px;transform:scaleX(0.640)">2.7</span>
<span class="t" style="left:521.01px;top:439.75px;font-size:19.00px;transform:scaleX(0.640)">4.0</span>
<span class="t" style="left:610.28px;top:439.75px;font-size:19.00px;transform:scaleX(0.640)">5.0</span>
<span class="t" style="left:699.73px;top:439.75px;font-size:19.00px;transform:scaleX(0.640)">5.2</span>
<span class="t" style="left:789.05px;top:439.75px;font-size:19.00px;transform:scaleX(0.640)">6.7</span>
<span class="t" style="left:878.38px;top:439.75px;font-size:19.00px;transform:scaleX(0.640)">9.0</span>
<span class="t" style="left:964.27px;top:439.75px;font-size:19.00px;transform:scaleX(0.640)">10.2</span>
<span class="t" style="left:1053.58px;top:439.75px;font-size:19.00px;transform:scaleX(0.640)">12.0</span>
<span class="t" style="left:1143.48px;top:439.75px;font-size:19.00px;transform:scaleX(0.640)">13.8</span>
<span class="t" style="left:665.56px;top:468.67px;font-size:19.80px;transform:scaleX(0.649)">220~240V/1PH/50Hz(or 60HZ)</span>
<span class="t" style="left:342.57px;top:500.46px;font-size:14.00px;transform:scaleX(1.040);-webkit-text-stroke:0">39</span>
<span class="t" style="left:434.46px;top:500.46px;font-size:14.00px;transform:scaleX(1.040);-webkit-text-stroke:0">52</span>
<span class="t" style="left:521.26px;top:500.46px;font-size:14.00px;transform:scaleX(1.040);-webkit-text-stroke:0">62</span>
<span class="t" style="left:610.59px;top:500.46px;font-size:14.00px;transform:scaleX(1.040);-webkit-text-stroke:0">76</span>
<span class="t" style="left:697.00px;top:500.46px;font-size:14.00px;transform:scaleX(1.040);-webkit-text-stroke:0">96</span>
<span class="t" style="left:785.17px;top:500.46px;font-size:14.00px;transform:scaleX(1.040);-webkit-text-stroke:0">132</span>
<span class="t" style="left:877.05px;top:500.46px;font-size:14.00px;transform:scaleX(1.040);-webkit-text-stroke:0">152</span>
<span class="t" style="left:964.91px;top:500.46px;font-size:14.00px;transform:scaleX(1.040);-webkit-text-stroke:0">189</span>
<span class="t" style="left:1055.41px;top:500.46px;font-size:14.00px;transform:scaleX(1.040);-webkit-text-stroke:0">220</span>
<span class="t" style="left:1143.37px;top:500.46px;font-size:14.00px;transform:scaleX(1.040);-webkit-text-stroke:0">330</span>
<span class="t" style="left:343.91px;top:526.99px;font-size:19.00px;transform:scaleX(0.640)">37</span>
<span class="t" style="left:433.27px;top:526.99px;font-size:19.00px;transform:scaleX(0.640)">39</span>
<span class="t" style="left:522.76px;top:526.99px;font-size:19.00px;transform:scaleX(0.640)">41</span>
<span class="t" style="left:612.11px;top:526.99px;font-size:19.00px;transform:scaleX(0.640)">43</span>
<span class="t" style="left:701.47px;top:526.99px;font-size:19.00px;transform:scaleX(0.640)">45</span>
<span class="t" style="left:790.87px;top:526.99px;font-size:19.00px;transform:scaleX(0.640)">46</span>
<span class="t" style="left:880.29px;top:526.99px;font-size:19.00px;transform:scaleX(0.640)">47</span>
<span class="t" style="left:969.49px;top:526.99px;font-size:19.00px;transform:scaleX(0.640)">50</span>
<span class="t" style="left:1058.94px;top:526.99px;font-size:19.00px;transform:scaleX(0.640)">52</span>
<span class="t" style="left:1148.81px;top:526.99px;font-size:19.00px;transform:scaleX(0.640)">57</span>
<span class="t" style="left:708.96px;top:555.45px;font-size:19.00px;transform:scaleX(0.675)">Centrifugal Fan</span>
<span class="t" style="left:335.77px;top:585.15px;font-size:19.00px;transform:scaleX(0.640)">Ø315</span>
<span class="t" style="left:425.15px;top:585.15px;font-size:19.00px;transform:scaleX(0.640)">Ø315</span>
<span class="t" style="left:514.53px;top:585.15px;font-size:19.00px;transform:scaleX(0.640)">Ø315</span>
<span class="t" style="left:603.89px;top:585.15px;font-size:19.00px;transform:scaleX(0.640)">Ø380</span>
<span class="t" style="left:693.27px;top:585.15px;font-size:19.00px;transform:scaleX(0.640)">Ø380</span>
<span class="t" style="left:782.65px;top:585.15px;font-size:19.00px;transform:scaleX(0.640)">Ø380</span>
<span class="t" style="left:872.06px;top:585.15px;font-size:19.00px;transform:scaleX(0.640)">Ø476</span>
<span class="t" style="left:961.44px;top:585.15px;font-size:19.00px;transform:scaleX(0.640)">Ø476</span>
<span class="t" style="left:1050.79px;top:585.15px;font-size:19.00px;transform:scaleX(0.640)">Ø530</span>
<span class="t" style="left:1140.66px;top:585.15px;font-size:19.00px;transform:scaleX(0.640)">Ø530</span>
<span class="t" style="left:347.05px;top:614.23px;font-size:19.00px;transform:scaleX(0.640)">1</span>
<span class="t" style="left:436.43px;top:614.23px;font-size:19.00px;transform:scaleX(0.640)">1</span>
<span class="t" style="left:525.81px;top:614.23px;font-size:19.00px;transform:scaleX(0.640)">1</span>
<span class="t" style="left:615.19px;top:614.23px;font-size:19.00px;transform:scaleX(0.640)">1</span>
<span class="t" style="left:704.57px;top:614.23px;font-size:19.00px;transform:scaleX(0.640)">1</span>
<span class="t" style="left:793.95px;top:614.23px;font-size:19.00px;transform:scaleX(0.640)">1</span>
<span class="t" style="left:883.33px;top:614.23px;font-size:19.00px;transform:scaleX(0.640)">1</span>
<span class="t" style="left:972.71px;top:614.23px;font-size:19.00px;transform:scaleX(0.640)">1</span>
<span class="t" style="left:1062.09px;top:614.23px;font-size:19.00px;transform:scaleX(0.640)">1</span>
<span class="t" style="left:1151.96px;top:614.23px;font-size:19.00px;transform:scaleX(0.640)">1</span>
<span class="t" style="left:712.32px;top:643.65px;font-size:19.00px;transform:scaleX(0.668)">3-speed Motor</span>
<span class="t" style="left:347.05px;top:672.39px;font-size:19.00px;transform:scaleX(0.640)">1</span>
<span class="t" style="left:436.43px;top:672.39px;font-size:19.00px;transform:scaleX(0.640)">1</span>
<span class="t" style="left:525.81px;top:672.39px;font-size:19.00px;transform:scaleX(0.640)">1</span>
<span class="t" style="left:615.19px;top:672.39px;font-size:19.00px;transform:scaleX(0.640)">1</span>
<span class="t" style="left:704.57px;top:672.39px;font-size:19.00px;transform:scaleX(0.640)">1</span>
<span class="t" style="left:793.95px;top:672.39px;font-size:19.00px;transform:scaleX(0.640)">1</span>
<span class="t" style="left:883.33px;top:672.39px;font-size:19.00px;transform:scaleX(0.640)">1</span>
<span class="t" style="left:972.71px;top:672.39px;font-size:19.00px;transform:scaleX(0.640)">1</span>
<span class="t" style="left:1062.09px;top:672.39px;font-size:19.00px;transform:scaleX(0.640)">1</span>
<span class="t" style="left:1151.96px;top:672.39px;font-size:19.00px;transform:scaleX(0.640)">1</span>
<span class="t" style="left:750.42px;top:701.47px;font-size:19.00px;transform:scaleX(0.640)">2</span>
<span class="t" style="left:745.15px;top:730.55px;font-size:19.00px;transform:scaleX(0.640)">1.6</span>
<span class="t" style="left:743.21px;top:759.63px;font-size:19.00px;transform:scaleX(0.640)">3/8&quot;</span>
<span class="t" style="left:706.90px;top:847.67px;font-size:19.00px;transform:scaleX(0.674)">ZG3/4&quot; / ZG3/4&quot;</span>
<span class="t" style="left:747.00px;top:875.95px;font-size:19.00px;transform:scaleX(0.640)">26</span>
<span class="t" style="left:343.83px;top:905.03px;font-size:19.00px;transform:scaleX(0.640)">21</span>
<span class="t" style="left:433.21px;top:905.03px;font-size:19.00px;transform:scaleX(0.640)">21</span>
<span class="t" style="left:522.59px;top:905.03px;font-size:19.00px;transform:scaleX(0.640)">21</span>
<span class="t" style="left:611.92px;top:905.03px;font-size:19.00px;transform:scaleX(0.640)">25</span>
<span class="t" style="left:701.30px;top:905.03px;font-size:19.00px;transform:scaleX(0.640)">25</span>
<span class="t" style="left:790.68px;top:905.03px;font-size:19.00px;transform:scaleX(0.640)">25</span>
<span class="t" style="left:880.06px;top:905.03px;font-size:19.00px;transform:scaleX(0.640)">34</span>
<span class="t" style="left:969.44px;top:905.03px;font-size:19.00px;transform:scaleX(0.640)">34</span>
<span class="t" style="left:1058.82px;top:905.03px;font-size:19.00px;transform:scaleX(0.640)">34</span>
<span class="t" style="left:1148.81px;top:905.03px;font-size:19.00px;transform:scaleX(0.640)">52</span>
<span class="t" style="left:396.69px;top:791.21px;font-size:15.00px;transform:scaleX(1.017);-webkit-text-stroke:0">580x580x395</span>
<span class="t" style="left:664.92px;top:791.21px;font-size:15.00px;transform:scaleX(1.018);-webkit-text-stroke:0">710x710x395</span>
<span class="t" style="left:939.79px;top:788.71px;font-size:19.00px;transform:scaleX(0.640)">832x832x397</span>
<span class="t" style="left:1118.95px;top:788.71px;font-size:19.00px;transform:scaleX(0.640)">950x950x430</span>
<span class="t" style="left:406.78px;top:817.79px;font-size:19.00px;transform:scaleX(0.640)">680x680x30</span>
<span class="t" style="left:674.96px;top:817.79px;font-size:19.00px;transform:scaleX(0.640)">830x830x30</span>
<span class="t" style="left:943.08px;top:817.79px;font-size:19.00px;transform:scaleX(0.640)">980x980x30</span>
<span class="t" style="left:1116.29px;top:817.79px;font-size:19.00px;transform:scaleX(0.640)">1140x1140x30</span>
<span class="t l" style="left:59.97px;top:87.38px;font-size:24.50px;transform:scaleX(0.673)">Air Flow Rate</span>
<span class="t l" style="left:45.85px;top:175.38px;font-size:24.50px;transform:scaleX(0.656)">Total Capacity</span>
<span class="t l" style="left:45.27px;top:261.18px;font-size:24.50px;transform:scaleX(0.659)">Sensible Capacity</span>
<span class="t l" style="left:91.93px;top:318.28px;font-size:24.50px;transform:scaleX(0.672)">Water flow rate</span>
<span class="t l" style="left:73.24px;top:346.88px;font-size:24.50px;transform:scaleX(0.663)">Water pressure drop</span>
<span class="t l" style="left:43.96px;top:408.68px;font-size:24.50px;transform:scaleX(0.668)">Heating Capacity</span>
<span class="t l" style="left:105.88px;top:464.18px;font-size:24.50px;transform:scaleX(0.659)">Power supply</span>
<span class="t l" style="left:39.97px;top:493.47px;font-size:24.50px;transform:scaleX(0.664)">Power Input</span>
<span class="t l" style="left:36.56px;top:521.47px;font-size:24.50px;transform:scaleX(0.667)">Sound pressure</span>
<span class="t l" style="left:63.95px;top:580.17px;font-size:24.50px;transform:scaleX(0.670)">Fan</span>
<span class="t l" style="left:187.65px;top:550.88px;font-size:24.50px;transform:scaleX(0.647)">Type</span>
<span class="t l" style="left:181.32px;top:579.38px;font-size:24.50px;transform:scaleX(0.688)">Model</span>
<span class="t l" style="left:173.94px;top:608.17px;font-size:24.50px;transform:scaleX(0.660)">Quantity</span>
<span class="t l" style="left:57.32px;top:651.38px;font-size:24.50px;transform:scaleX(0.686)">Motor</span>
<span class="t l" style="left:187.65px;top:637.47px;font-size:24.50px;transform:scaleX(0.647)">Type</span>
<span class="t l" style="left:173.94px;top:666.88px;font-size:24.50px;transform:scaleX(0.660)">Quantity</span>
<span class="t l" style="left:22.61px;top:735.67px;font-size:24.50px;transform:scaleX(0.724)">Coil</span>
<span class="t l" style="left:85.88px;top:697.47px;font-size:24.50px;transform:scaleX(0.670)">Coil Rows</span>
<span class="t l" style="left:86.66px;top:726.07px;font-size:24.50px;transform:scaleX(0.666)">Max. working pressure</span>
<span class="t l" style="left:87.65px;top:754.88px;font-size:24.50px;transform:scaleX(0.658)">Tuber Diameter</span>
<span class="t l" style="left:3.66px;top:799.38px;font-size:24.50px;transform:scaleX(0.565)">Dimensions</span>
<span class="t l" style="left:86.74px;top:784.17px;font-size:24.50px;transform:scaleX(0.669)">Unit body</span>
<span class="t l" style="left:86.66px;top:812.67px;font-size:24.50px;transform:scaleX(0.667)">Panel assembly</span>
<span class="t l" style="left:4.11px;top:860.67px;font-size:24.50px;transform:scaleX(0.565)">Connection</span>
<span class="t l" style="left:87.94px;top:844.17px;font-size:24.50px;transform:scaleX(0.661)">Water inlet/outlet pipe</span>
<span class="t l" style="left:87.19px;top:872.67px;font-size:24.50px;transform:scaleX(0.664)">Condensate discharge</span>
<span class="t l" style="left:25.23px;top:901.47px;font-size:24.50px;transform:scaleX(0.666)">Weight(with feet, with casing)</span>
<span class="t l" style="left:229.75px;top:58.13px;font-size:24.50px;transform:scaleX(0.660)">H</span>
<span class="t l" style="left:228.87px;top:87.21px;font-size:24.50px;transform:scaleX(0.660)">M</span>
<span class="t l" style="left:230.71px;top:116.30px;font-size:24.50px;transform:scaleX(0.660)">L</span>
<span class="t l" style="left:229.75px;top:145.38px;font-size:24.50px;transform:scaleX(0.660)">H</span>
<span class="t l" style="left:228.87px;top:174.46px;font-size:24.50px;transform:scaleX(0.660)">M</span>
<span class="t l" style="left:230.71px;top:203.54px;font-size:24.50px;transform:scaleX(0.660)">L</span>
<span class="t l" style="left:229.75px;top:232.62px;font-size:24.50px;transform:scaleX(0.660)">H</span>
<span class="t l" style="left:228.87px;top:261.69px;font-size:24.50px;transform:scaleX(0.660)">M</span>
<span class="t l" style="left:230.71px;top:290.77px;font-size:24.50px;transform:scaleX(0.660)">L</span>
<span class="t l" style="left:229.75px;top:378.01px;font-size:24.50px;transform:scaleX(0.660)">H</span>
<span class="t l" style="left:228.87px;top:407.10px;font-size:24.50px;transform:scaleX(0.660)">M</span>
<span class="t l" style="left:230.71px;top:436.18px;font-size:24.50px;transform:scaleX(0.660)">L</span>
<span class="t l" style="left:271.04px;top:319.86px;font-size:24.50px;transform:scaleX(0.660)">l/h</span>
<span class="t l" style="left:265.12px;top:348.94px;font-size:24.50px;transform:scaleX(0.660)">kPa</span>
<span class="t l" style="left:271.96px;top:494.33px;font-size:24.50px;transform:scaleX(0.660)">W</span>
<span class="t l" style="left:259.10px;top:523.41px;font-size:24.50px;transform:scaleX(0.660)">dB(A)</span>
<span class="t l" style="left:269.34px;top:610.65px;font-size:24.50px;transform:scaleX(0.660)">Nr.</span>
<span class="t l" style="left:269.34px;top:668.81px;font-size:24.50px;transform:scaleX(0.660)">Nr.</span>
<span class="t l" style="left:269.34px;top:697.89px;font-size:24.50px;transform:scaleX(0.660)">Nr.</span>
<span class="t l" style="left:262.31px;top:726.97px;font-size:24.50px;transform:scaleX(0.660)">MPa</span>
<span class="t l" style="left:264.76px;top:756.05px;font-size:24.50px;transform:scaleX(0.660)">inch</span>
<span class="t l" style="left:266.12px;top:785.13px;font-size:24.50px;transform:scaleX(0.660)">mm</span>
<span class="t l" style="left:266.12px;top:814.21px;font-size:24.50px;transform:scaleX(0.660)">mm</span>
<span class="t l" style="left:264.76px;top:843.29px;font-size:24.50px;transform:scaleX(0.660)">inch</span>
<span class="t l" style="left:264.76px;top:872.37px;font-size:24.50px;transform:scaleX(0.660)">inch</span>
<span class="t l" style="left:271.04px;top:901.45px;font-size:24.50px;transform:scaleX(0.660)">kg</span>
<span class="t l" style="left:265.94px;top:145.38px;font-size:24.50px;transform:scaleX(0.660)">KW</span>
<span class="t l" style="left:265.94px;top:174.46px;font-size:24.50px;transform:scaleX(0.660)">KW</span>
<span class="t l" style="left:265.94px;top:203.54px;font-size:24.50px;transform:scaleX(0.660)">KW</span>
<span class="t l" style="left:265.94px;top:232.62px;font-size:24.50px;transform:scaleX(0.660)">KW</span>
<span class="t l" style="left:265.94px;top:261.69px;font-size:24.50px;transform:scaleX(0.660)">KW</span>
<span class="t l" style="left:265.94px;top:290.77px;font-size:24.50px;transform:scaleX(0.660)">KW</span>
<span class="t l" style="left:265.94px;top:378.01px;font-size:24.50px;transform:scaleX(0.660)">KW</span>
<span class="t l" style="left:265.94px;top:407.10px;font-size:24.50px;transform:scaleX(0.660)">KW</span>
<span class="t l" style="left:265.94px;top:436.18px;font-size:24.50px;transform:scaleX(0.660)">KW</span>
<span class="t" style="left:262.70px;top:58.13px;font-size:24.50px;transform:scaleX(0.660)">m<sup>3</sup><b>/</b>h</span>
<span class="t" style="left:262.70px;top:87.21px;font-size:24.50px;transform:scaleX(0.660)">m<sup>3</sup><b>/</b>h</span>
<span class="t" style="left:262.70px;top:116.30px;font-size:24.50px;transform:scaleX(0.660)">m<sup>3</sup><b>/</b>h</span>
<span class="t" style="left:8.73px;top:304.21px;font-size:19.50px;transform:rotate(-90deg) scaleX(1.135)">Cooling</span>
<span class="t" style="left:7.93px;top:440.99px;font-size:20.20px;transform:rotate(-90deg) scaleX(1.082)">Heat</span>
</body></html>
